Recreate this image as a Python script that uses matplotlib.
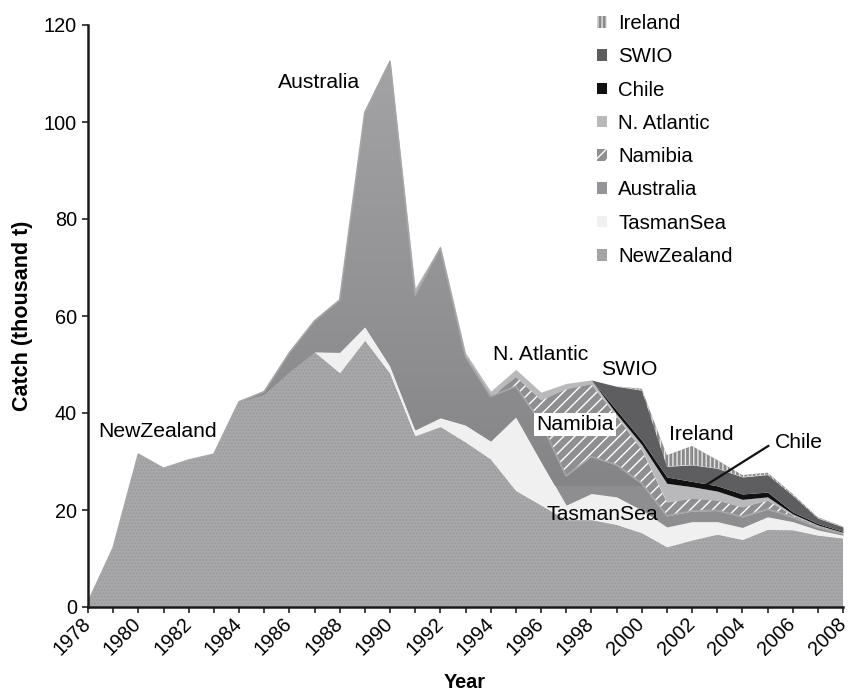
import numpy as np
import matplotlib
matplotlib.use("Agg")
import matplotlib.pyplot as plt
from matplotlib.patches import Patch, PathPatch
from matplotlib.colors import LinearSegmentedColormap

plt.rcParams['font.family'] = ['Liberation Sans', 'DejaVu Sans']
plt.rcParams['hatch.linewidth'] = 1.0

years = list(range(1978, 2009))

new_zealand = [1.0, 12.2, 31.5, 28.6, 30.3, 31.5, 42.3, 43.9, 48.5, 52.6, 48.3, 55.0, 48.2,
               35.3, 37.2, 34.0, 30.5, 24.0, 21.0, 18.0, 18.0, 17.0, 15.3, 12.4, 13.8, 15.0,
               13.9, 16.0, 15.9, 14.8, 14.2]
tasman_sea = [0, 0, 0, 0, 0, 0, 0, 0, 0, 0, 4.2, 2.8, 1.5, 1.2, 1.8, 3.5, 3.7, 15.2, 9.0,
              3.0, 5.4, 5.7, 4.7, 4.1, 3.8, 2.6, 2.5, 2.6, 1.7, 1.1, 0.6]
australia = [0, 0, 0, 0, 0, 0, 0, 0.5, 3.9, 6.4, 10.8, 44.2, 62.8, 27.8, 35.0, 14.1, 9.2,
             6.3, 8.0, 6.0, 7.6, 6.6, 5.5, 2.3, 2.2, 2.3, 2.2, 1.6, 0.9, 0.5, 0.3]
namibia = [0] * 17 + [2.0, 4.7, 18.0, 15.0, 10.0, 7.0, 2.8, 2.6, 2.1, 2.0, 1.8, 0.4, 0.3, 0.2]
n_atlantic = [0] * 13 + [1.5, 0.5, 0.8, 1.1, 1.5, 1.6, 1.1, 0.8, 0.5, 1.0, 3.9, 2.4, 1.9,
                         1.6, 0.7, 0.3, 0.2, 0.1]
chile = [0] * 21 + [0.8, 0.9, 1.3, 1.1, 1.1, 1.1, 1.0, 0.4, 0.3, 0.2]
swio = [0] * 21 + [4.9, 10.3, 2.2, 3.4, 3.6, 3.5, 3.6, 3.4, 1.1, 0.9]
ireland = [0] * 22 + [0.3, 2.3, 3.9, 1.7, 0.4, 0.4, 0.3, 0.2, 0.1]

series_names = ['NewZealand', 'TasmanSea', 'Australia', 'Namibia', 'N. Atlantic',
                'Chile', 'SWIO', 'Ireland']
series_values = [new_zealand, tasman_sea, australia, namibia, n_atlantic, chile, swio, ireland]

styles = {
    'NewZealand': dict(facecolor='#a9a9ab', edgecolor='#9a9a9c', hatch='.....'),
    'TasmanSea': dict(facecolor='#f0f0f0', edgecolor='#f0f0f0', hatch=None),
    'Australia': dict(facecolor='#8e8e90', edgecolor='#8e8e90', hatch=None),
    'Namibia': dict(facecolor='#8f8f91', edgecolor='#ffffff', hatch='///'),
    'N. Atlantic': dict(facecolor='#b9b9bb', edgecolor='#b9b9bb', hatch=None),
    'Chile': dict(facecolor='#111111', edgecolor='#111111', hatch=None),
    'SWIO': dict(facecolor='#5e5e60', edgecolor='#5e5e60', hatch=None),
    'Ireland': dict(facecolor='#8a8a8c', edgecolor='#e6e6e6', hatch='||||'),
}

fig = plt.figure(figsize=(8.56, 6.91), dpi=100)
ax = fig.add_axes([88 / 856, 1 - 607 / 691, 755 / 856, 582 / 691])

x = np.array(years, dtype=float)
base = np.zeros(len(years))
for name, vals in zip(series_names, series_values):
    v = np.array(vals, dtype=float)
    st = styles[name]
    coll = ax.fill_between(x, base, base + v, facecolor=st['facecolor'],
                           edgecolor=st['edgecolor'], hatch=st['hatch'], linewidth=0)
    if name == 'Australia':
        # subtle vertical shading inside the Australia layer
        cmap = LinearSegmentedColormap.from_list('aus', ['#858587', '#a4a4a6'])
        grad = np.linspace(0, 1, 256).reshape(-1, 1)
        im = ax.imshow(grad, extent=[1978, 2008, 25, 115], origin='lower', cmap=cmap,
                       aspect='auto', zorder=coll.get_zorder() + 0.01, interpolation='bilinear')
        clip = PathPatch(coll.get_paths()[0], transform=ax.transData, facecolor='none',
                         edgecolor='none')
        ax.add_patch(clip)
        im.set_clip_path(clip)
        ax.plot(x, base + v, color='#a6a6a8', lw=1.2, zorder=2)
    base = base + v

ax.set_xlim(1978, 2008)
ax.set_ylim(0, 120)
ax.set_xticks(list(range(1978, 2009, 2)))
ax.set_xticks(years, minor=True)
ax.set_yticks([0, 20, 40, 60, 80, 100, 120])
ax.tick_params(axis='both', which='both', direction='out', length=4, width=1.2,
               color='#222222', labelsize=14.3)
ax.tick_params(axis='y', pad=4)
ax.tick_params(axis='x', pad=6)
for lab in ax.get_xticklabels():
    lab.set_rotation(45)
    lab.set_ha('right')
    lab.set_va('center')
    lab.set_rotation_mode('anchor')
for s in ['top', 'right']:
    ax.spines[s].set_visible(False)
for s in ['left', 'bottom']:
    ax.spines[s].set_linewidth(1.8)
    ax.spines[s].set_color('#1a1a1a')
    ax.spines[s].set_zorder(5)

ax.set_ylabel('Catch (thousand t)', fontsize=15.5, fontweight='bold', labelpad=8)
fig.text(465 / 856, 1 - 683 / 691, 'Year', fontsize=14.3, fontweight='bold',
         ha='center', va='center')

fs = 15.2
ax.text(1985.55, 108.1, 'Australia', fontsize=fs, va='center', ha='left')
ax.text(1978.4, 36.1, 'NewZealand', fontsize=fs, va='center', ha='left')
ax.text(1994.1, 52.1, 'N. Atlantic', fontsize=fs, va='center', ha='left')
ax.text(1998.4, 49.0, 'SWIO', fontsize=fs, va='center', ha='left')
ax.text(1995.8, 37.7, 'Namibia', fontsize=fs, va='center', ha='left', zorder=6,
        bbox=dict(facecolor='white', edgecolor='none', pad=1.5))
ax.text(2001.1, 35.6, 'Ireland', fontsize=fs, va='center', ha='left')
ax.text(2005.3, 33.9, 'Chile', fontsize=fs, va='center', ha='left')
ax.plot([2005.03, 2002.58], [33.2, 25.2], color='#111111', lw=1.6, zorder=6)
ax.text(1996.2, 19.1, 'TasmanSea', fontsize=fs, va='center', ha='left', zorder=6)

handles = []
labels = []
for name in series_names[::-1]:
    st = styles[name]
    fc = '#959597' if name == 'Australia' else st['facecolor']
    handles.append(Patch(facecolor=fc, edgecolor=st['edgecolor'],
                         hatch=st['hatch'], linewidth=0))
    labels.append(name)
leg = ax.legend(handles, labels, loc='upper left', bbox_to_anchor=(597 / 856, 1 - 14 / 691),
                bbox_transform=fig.transFigure, frameon=False, fontsize=14.7,
                handlelength=0.5, handleheight=0.5, handletextpad=0.55,
                labelspacing=0.7, borderpad=0, borderaxespad=0)

fig.savefig('out.png', dpi=100, facecolor='white')
